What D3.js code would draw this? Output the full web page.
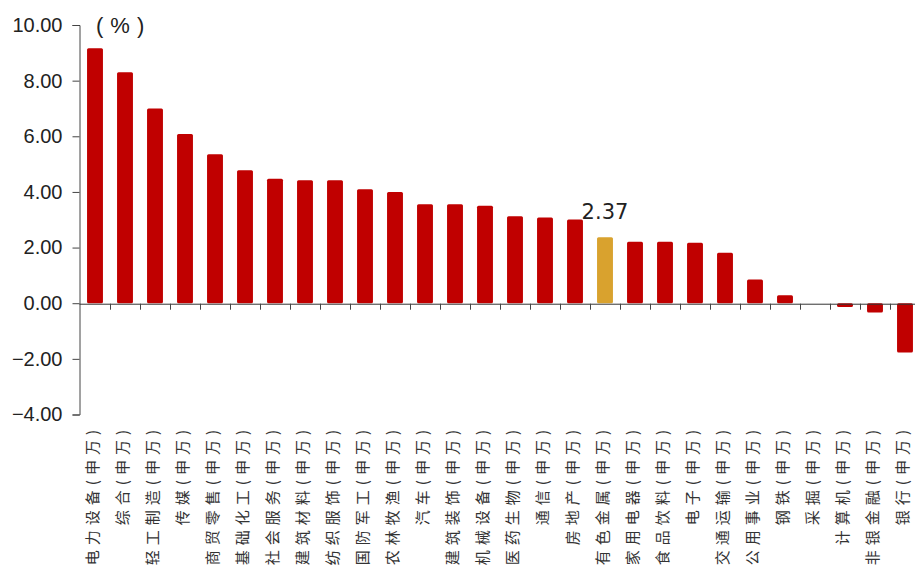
<html>

<head>
    <meta charset="utf-8">
    <script src="https://cdnjs.cloudflare.com/ajax/libs/d3/7.8.5/d3.min.js"></script>
    <style>
        body { margin: 0; background: #fff; overflow: hidden; }
    </style>
</head>

<body>
    <script>
        // industries, sorted by weekly return
        var categories = ["电力设备", "综合", "轻工制造", "传媒", "商贸零售", "基础化工", "社会服务",
            "建筑材料", "纺织服饰", "国防军工", "农林牧渔", "汽车", "建筑装饰", "机械设备", "医药生物",
            "通信", "房地产", "有色金属", "家用电器", "食品饮料", "电子", "交通运输", "公用事业",
            "钢铁", "采掘", "计算机", "非银金融", "银行"];
        var suffix = "(申万)";
        var values = [9.16, 8.30, 7.00, 6.08, 5.35, 4.78, 4.47, 4.42, 4.42, 4.10, 4.00, 3.56, 3.56,
            3.50, 3.13, 3.08, 3.01, 2.37, 2.21, 2.21, 2.17, 1.81, 0.85, 0.29, 0.00, -0.14, -0.33, -1.77];
        var highlight = "有色金属";
        var yTicks = [-4, -2, 0, 2, 4, 6, 8, 10];

        var w = 915,
            h = 573;

        var x = d3.scaleBand()
            .domain(categories)
            .range([80, 920])
            .paddingInner(0.47)
            .paddingOuter(0.235);

        var y = d3.scaleLinear()
            .domain([-4, 10])
            .range([414.5, 25]);

        var svg = d3.select("body")
            .append("svg")
            .attr("width", w)
            .attr("height", h);

        // bars
        svg.selectAll("rect.bar")
            .data(categories)
            .enter()
            .append("rect")
            .attr("class", "bar")
            .attr("x", function (d) { return x(d); })
            .attr("width", x.bandwidth())
            .attr("y", function (d, i) { return y(Math.max(0, values[i])); })
            .attr("height", function (d, i) { return Math.abs(y(values[i]) - y(0)); })
            .attr("rx", 1.5)
            .style("fill", function (d) { return d === highlight ? "#D9A22E" : "#C00000"; });

        // y axis
        var yAxis = svg.append("g")
            .attr("transform", "translate(79.5,0)")
            .call(d3.axisLeft(y).tickValues(yTicks).tickSize(7).tickPadding(10)
                .tickFormat(d3.format(".2f")));
        yAxis.select(".domain").style("stroke", "#444");
        yAxis.selectAll(".tick line").style("stroke", "#444");
        yAxis.selectAll("text")
            .style("font-family", "'Liberation Sans', Arial, sans-serif")
            .style("font-size", "20px")
            .style("fill", "#222");

        // category axis on the zero line
        var xb = d3.scaleLinear().domain([0, categories.length]).range([80, 920]);
        var xAxis = svg.append("g")
            .attr("transform", "translate(0," + (y(0) + 0.5) + ")")
            .call(d3.axisBottom(xb).tickValues(d3.range(1, categories.length + 1))
                .tickSize(6).tickFormat(""));
        xAxis.select(".domain").style("stroke", "#333").attr("d", "M79.5,0.5H920");
        xAxis.selectAll(".tick line").style("stroke", "#444");

        // category labels, rotated (long ones run off the bottom, as in the source)
        svg.selectAll("text.cat")
            .data(categories)
            .enter()
            .append("text")
            .attr("class", "cat")
            .attr("transform", function (d) {
                return "translate(" + (x(d) + x.bandwidth() / 2 - 3) + ",425) rotate(-90)";
            })
            .attr("dy", "0.38em")
            .attr("text-anchor", "end")
            .style("font-family", "'Noto Sans CJK SC', sans-serif")
            .style("font-size", "15px")
            .style("letter-spacing", "5px")
            .style("fill", "#333")
            .text(function (d) { return d + suffix; });

        // unit label
        svg.append("text")
            .attr("x", 96)
            .attr("y", 33)
            .style("font-family", "'Liberation Sans', Arial, sans-serif")
            .style("font-size", "22px")
            .style("letter-spacing", "7px")
            .style("fill", "#222")
            .text("(%)");

        // value label for the highlighted bar
        var hi = categories.indexOf(highlight);
        svg.append("text")
            .attr("x", x(highlight) + x.bandwidth() / 2)
            .attr("y", y(values[hi]) - 18)
            .attr("text-anchor", "middle")
            .style("font-family", "'DejaVu Sans', sans-serif")
            .style("font-size", "21px")
            .style("fill", "#222")
            .text(values[hi].toFixed(2));
    </script>
</body>

</html>
